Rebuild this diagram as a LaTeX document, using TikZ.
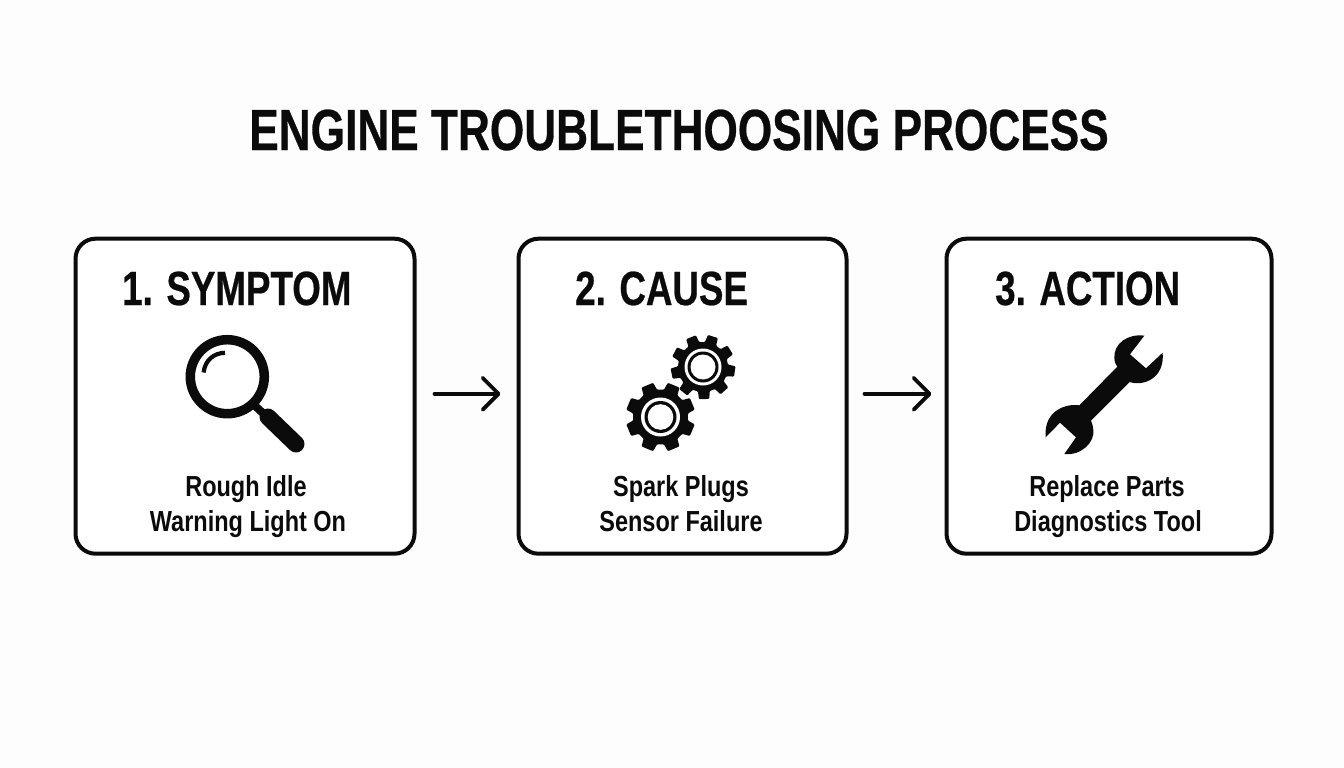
\documentclass[tikz,border=0pt]{standalone}
\usepackage{fontspec}
\setmainfont{Liberation Sans}
\newfontfamily\titlefont[UprightFont=* Bold,FakeStretch=0.762,FakeBold=0.5]{Liberation Sans}
\newfontfamily\headfont[UprightFont=* Bold,FakeStretch=0.765,FakeBold=0.5]{Liberation Sans}
\newfontfamily\labelfont[UprightFont=* Bold,FakeStretch=0.81]{Liberation Sans}
\usetikzlibrary{arrows.meta}
\definecolor{ink}{HTML}{0B0B0B}
\definecolor{paper}{HTML}{FDFDFD}
\tikzset{
  panel/.style={draw=ink,line width=4pt,rounded corners=20pt,fill=white,minimum height=315pt,inner sep=0pt,outer sep=0pt},
  headtxt/.style={text=ink,font=\fontsize{48}{48}\selectfont\headfont,inner sep=0pt,anchor=base west},
  titletxt/.style={text=ink,font=\fontsize{58}{58}\selectfont\titlefont,inner sep=0pt,anchor=base},
  labeltxt/.style={text=ink,font=\fontsize{29}{29}\selectfont\labelfont,inner sep=0pt,anchor=base},
  flow/.style={draw=ink,line width=3.8pt,line cap=round,-{Straight Barb[length=16pt,width=32pt,line width=3.8pt,round]}},
}
\newcommand{\drawgear}[6]{%
  \begin{scope}[shift={(#1,#2)}]
  \pgfmathsetmacro{\st}{360/#5}
  \fill[ink,rounded corners=1pt]
  ({#6-0.34*\st}:#4)
  \foreach \k in {1,...,#5}{
    -- ({#6+(\k-1)*\st-0.34*\st}:#4)
    -- ({#6+(\k-1)*\st-0.23*\st}:#3)
    -- ({#6+(\k-1)*\st+0.23*\st}:#3)
    -- ({#6+(\k-1)*\st+0.34*\st}:#4)
  } -- cycle;
  \end{scope}
}
\begin{document}
\begin{tikzpicture}[x=1pt,y=-1pt]
\useasboundingbox (0,0) rectangle (1344,768);
\fill[paper] (0,0) rectangle (1344,768);

\node[titletxt] (title) at (679,150) {ENGINE TROUBLETHOOSING PROCESS};

\node[panel,minimum width=339pt] (box1) at (245,396.2) {};
\node[panel,minimum width=328pt] (box2) at (682.5,396.2) {};
\node[panel,minimum width=325pt] (box3) at (1109,396.2) {};

\node[headtxt] (h1) at (122,305) {1. SYMPTOM};
\node[headtxt] (h2) at (575,305) {2. CAUSE};
\node[headtxt] (h3) at (995,305) {3. ACTION};

\node[labeltxt] (l1a) at (246,496) {Rough Idle};
\node[labeltxt] (l1b) at (248,531) {Warning Light On};
\node[labeltxt] (l2a) at (681,496) {Spark Plugs};
\node[labeltxt] (l2b) at (681,531) {Sensor Failure};
\node[labeltxt] (l3a) at (1107,496) {Replace Parts};
\node[labeltxt] (l3b) at (1108,531) {Diagnostics Tool};

\draw[flow,shorten <=20pt,shorten >=18pt] ([yshift=2.4pt]box1.east) -- ([yshift=2.4pt]box2.west);
\draw[flow,shorten <=18pt,shorten >=15pt] ([yshift=2.4pt]box2.east) -- ([yshift=2.4pt]box3.west);

% magnifier
\draw[ink,line width=9.5pt] (227.3,376.7) circle[radius=37];
\draw[ink,line width=8pt] (252,403) -- (266,416);
\draw[ink,line width=17pt,line cap=round] (268,417) -- (296,444);
\draw[ink,line width=4.2pt] (203.6,372.5) .. controls (205,360) and (214,353) .. (225,352.8);

% gears
\drawgear{703}{367}{32.5}{25}{9}{8}
\drawgear{660.5}{417}{35}{27.5}{8}{22.5}
\foreach \cx/\cy/\ra/\rb/\rc in {703/367/18.5/15.5/12.5,660.5/417/19.5/16/12.8}{
  \fill[white] (\cx,\cy) circle[radius=\ra];
  \fill[ink] (\cx,\cy) circle[radius=\rb];
  \fill[white] (\cx,\cy) circle[radius=\rc];
}

% wrench
\begin{scope}[shift={(1030,320)},x=0.3333pt,y=-0.3333pt]
\fill[ink] (343,47) .. controls (295,40) and (250,70) .. (253,115)
  .. controls (254,128) and (258,135) .. (262,140)
  -- (148,256) .. controls (110,250) and (40,270) .. (47,352)
  -- (90,308) -- (138,352) -- (103,402)
  .. controls (155,408) and (195,365) .. (190,330)
  .. controls (189,318) and (186,308) .. (183,302)
  -- (299,186) .. controls (340,200) and (405,175) .. (398,98)
  -- (348,145) -- (300,103) -- cycle;
\end{scope}
\end{tikzpicture}
\end{document}
